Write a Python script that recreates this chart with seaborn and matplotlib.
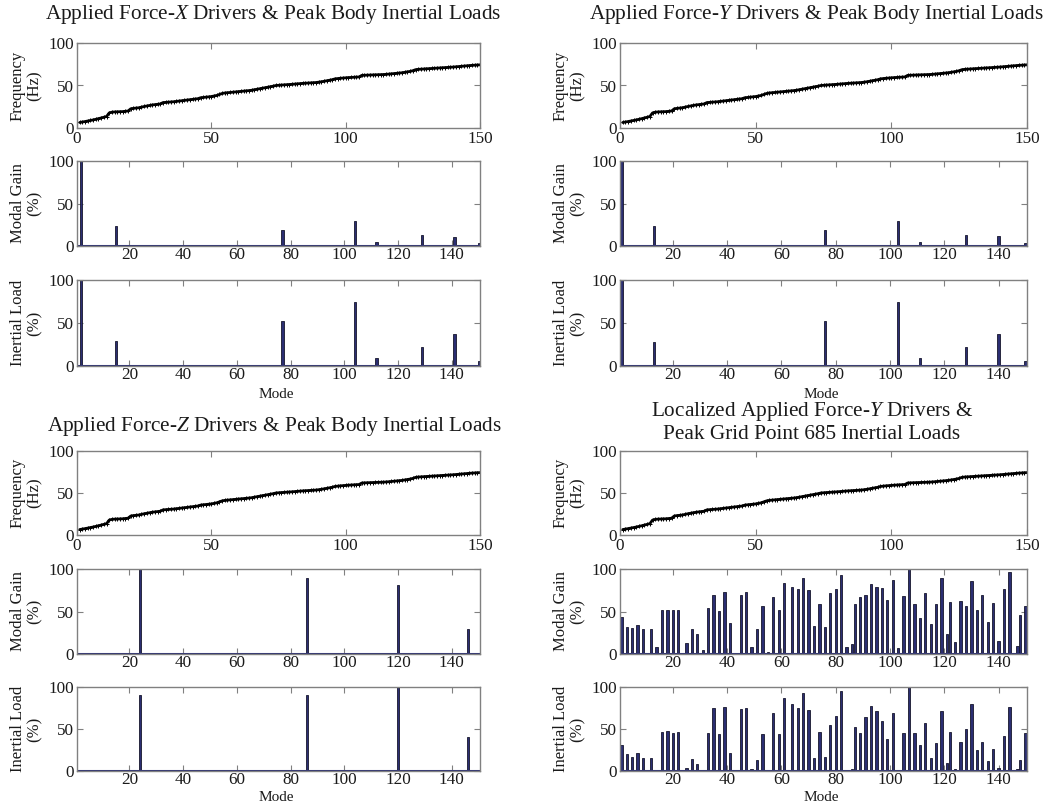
import numpy as np
import matplotlib
matplotlib.use("Agg")
import matplotlib.pyplot as plt
import seaborn as sns

# ---------------- data ----------------
modes = list(range(1, 151))

frequency_hz = [
    6.5, 7.0, 7.6, 8.2, 8.9, 9.5, 10.2, 11.0, 11.8, 12.6,
    13.5, 17.8, 18.6, 18.9, 19.0, 19.1, 19.3, 19.6, 20.0, 22.6,
    23.1, 23.4, 23.8, 24.6, 25.3, 25.9, 26.6, 27.1, 27.5, 27.9,
    28.3, 29.9, 30.2, 30.4, 30.6, 30.9, 31.3, 31.7, 32.1, 32.5,
    32.8, 33.2, 33.6, 34.0, 34.5, 35.6, 36.0, 36.3, 36.6, 37.0,
    37.6, 38.3, 39.5, 40.6, 41.2, 41.5, 41.9, 42.2, 42.5, 42.8,
    43.0, 43.3, 43.6, 44.0, 44.4, 45.0, 45.7, 46.3, 46.9, 47.4,
    47.9, 48.5, 49.2, 50.0, 50.3, 50.5, 50.7, 50.9, 51.1, 51.4,
    51.7, 52.0, 52.3, 52.5, 52.7, 52.9, 53.0, 53.2, 53.5, 53.9,
    54.4, 55.0, 55.6, 56.2, 56.8, 57.8, 58.2, 58.5, 58.8, 59.1,
    59.3, 59.5, 59.7, 59.9, 60.1, 61.9, 62.1, 62.2, 62.3, 62.4,
    62.5, 62.6, 62.7, 62.9, 63.1, 63.4, 63.7, 64.0, 64.3, 64.6,
    65.0, 65.5, 66.0, 66.6, 67.4, 68.6, 69.0, 69.2, 69.4, 69.6,
    69.8, 70.0, 70.2, 70.4, 70.6, 70.8, 71.0, 71.2, 71.4, 71.7,
    72.0, 72.3, 72.6, 72.9, 73.2, 73.5, 73.7, 73.9, 74.1, 74.3,
]

x_gain_modes = [2, 15, 77, 104, 112, 129, 141, 150]
x_gain_vals = [100, 23, 19, 30, 5, 13, 11, 3]
x_load_modes = [2, 15, 77, 104, 112, 129, 141, 150]
x_load_vals = [100, 29, 52, 74, 9, 22, 37, 6]

y_gain_modes = [1, 13, 76, 103, 111, 128, 140, 150]
y_gain_vals = [100, 23, 19, 30, 5, 13, 12, 3]
y_load_modes = [1, 13, 76, 103, 111, 128, 140, 150]
y_load_vals = [100, 28, 52, 74, 9, 22, 37, 6]

z_gain_modes = [24, 86, 120, 146]
z_gain_vals = [100, 89, 81, 29]
z_load_modes = [24, 86, 120, 146]
z_load_vals = [90, 90, 100, 41]

loc_modes = [1, 3, 5, 7, 9, 12, 14, 16, 18, 20, 22, 24, 25, 27, 29, 31, 33, 35,
             37, 39, 41, 43, 45, 47, 49, 51, 53, 55, 57, 59, 61, 64, 66, 68, 70,
             72, 74, 76, 78, 80, 82, 84, 86, 87, 89, 91, 93, 95, 97, 99, 101,
             103, 105, 107, 109, 111, 113, 115, 117, 119, 121, 122, 124, 126,
             128, 130, 132, 134, 136, 138, 140, 142, 144, 147, 148, 150]
loc_gain_vals = [43, 32, 31, 34, 30, 30, 8, 52, 52, 52, 52, 1, 13, 30, 23, 5, 54, 70,
                 51, 73, 36, 1, 69, 73, 8, 30, 56, 2, 67, 52, 84, 79, 77, 89, 75,
                 33, 59, 32, 72, 76, 93, 8, 12, 59, 67, 69, 82, 79, 78, 64, 87,
                 7, 68, 100, 59, 42, 72, 35, 59, 90, 24, 61, 14, 62,
                 56, 86, 52, 69, 38, 60, 15, 77, 97, 10, 46, 57]
loc_load_vals = [31, 20, 17, 22, 16, 15, 1, 47, 48, 45, 47, 1, 3, 14, 8, 1, 45, 75,
                 44, 76, 22, 1, 74, 75, 2, 13, 44, 1, 69, 44, 87, 80, 75, 93, 73,
                 15, 46, 17, 55, 66, 95, 1, 2, 52, 45, 64, 77, 71, 59, 38, 69,
                 1, 45, 100, 45, 31, 57, 16, 33, 71, 9, 46, 2, 34,
                 50, 80, 25, 35, 12, 26, 4, 42, 76, 2, 13, 45]

titles = [
    "Applied Force-$X$ Drivers & Peak Body Inertial Loads",
    "Applied Force-$Y$ Drivers & Peak Body Inertial Loads",
    "Applied Force-$Z$ Drivers & Peak Body Inertial Loads",
    "Localized Applied Force-$Y$ Drivers &\nPeak Grid Point 685 Inertial Loads",
]

# ---------------- style ----------------
sns.set_style("ticks")
plt.rcParams["font.family"] = ["Liberation Serif", "DejaVu Serif"]
plt.rcParams["mathtext.fontset"] = "custom"
plt.rcParams["mathtext.rm"] = "Liberation Serif"
plt.rcParams["mathtext.it"] = "Liberation Serif:italic"

NAVY = "#2b2e72"
EDGE = "#16162c"
FRAME = "#808080"
TXT = "#1a1a1a"

W, H = 1047, 805
fig = plt.figure(figsize=(W / 100, H / 100), dpi=100)


def px_axes(x0, x1, ytop, ybot):
    return fig.add_axes([x0 / W, 1 - ybot / H, (x1 - x0) / W, (ybot - ytop) / H])


def style_axes(ax, xpad=2):
    for s in ax.spines.values():
        s.set_visible(True)
        s.set_color(FRAME)
        s.set_linewidth(1.0)
    ax.tick_params(direction="in", top=True, right=True, length=4, width=0.8,
                   color=FRAME, labelcolor=TXT, labelsize=12.3, pad=2)
    ax.tick_params(axis="x", pad=xpad)
    ax.set_ylim(0, 100)
    ax.set_yticks([0, 50, 100])


def full(mlist, vlist):
    arr = np.zeros(len(modes))
    arr[np.array(mlist) - 1] = vlist
    return arr


cols = [(77, 480), (620, 1027)]
rows = [[(43, 128), (161, 246), (280, 366)], [(451, 535), (569, 654), (687, 771)]]
mode_label_y = [394, 797]

panels = [
    (0, 0, full(x_gain_modes, x_gain_vals), full(x_load_modes, x_load_vals)),
    (0, 1, full(y_gain_modes, y_gain_vals), full(y_load_modes, y_load_vals)),
    (1, 0, full(z_gain_modes, z_gain_vals), full(z_load_modes, z_load_vals)),
    (1, 1, full(loc_modes, loc_gain_vals), full(loc_modes, loc_load_vals)),
]
title_pos = [(273, 15), (817, 15), (275, 426), (812, 422)]

for i, (r, c, gain, load) in enumerate(panels):
    x0, x1 = cols[c]
    (t0, b0), (t1, b1), (t2, b2) = rows[r]
    axf = px_axes(x0, x1, t0, b0)
    sns.lineplot(x=modes, y=frequency_hz, ax=axf, color="black", linewidth=2.0,
                 marker="+", markersize=3.2, markeredgewidth=0.7,
                 markeredgecolor="black")
    style_axes(axf)
    axf.set_xlim(0, 150)
    axf.set_xticks([0, 50, 100, 150])
    axf.set_ylabel("Frequency\n(Hz)", fontsize=12, color=TXT, linespacing=1.1,
                   labelpad=4)
    axf.set_xlabel("")

    for (tt, bb), vals, lab in [((t1, b1), gain, "Modal Gain\n(%)"),
                                ((t2, b2), load, "Inertial Load\n(%)")]:
        ax = px_axes(x0, x1, tt, bb)
        sns.barplot(x=modes, y=vals, ax=ax, native_scale=True, color=NAVY,
                    saturation=1, width=0.85, edgecolor=EDGE, linewidth=0.6,
                    errorbar=None)
        ax.axhline(0, color=NAVY, linewidth=2.2, zorder=1)
        style_axes(ax, xpad=0.5)
        ax.set_xlim(0.5, 150.5)
        ax.set_xticks([20, 40, 60, 80, 100, 120, 140])
        ax.set_ylabel(lab, fontsize=12, color=TXT, linespacing=1.1, labelpad=4)
        ax.set_xlabel("")

    tx, ty = title_pos[i]
    fig.text(tx / W, 1 - ty / H, titles[i], ha="center", va="center",
             fontsize=15.3, color=TXT)
    fig.text(((x0 + x1) / 2 - 2) / W, 1 - mode_label_y[r] / H, "Mode",
             ha="center", va="center", fontsize=11, color=TXT)

fig.savefig("out.png", dpi=100)
